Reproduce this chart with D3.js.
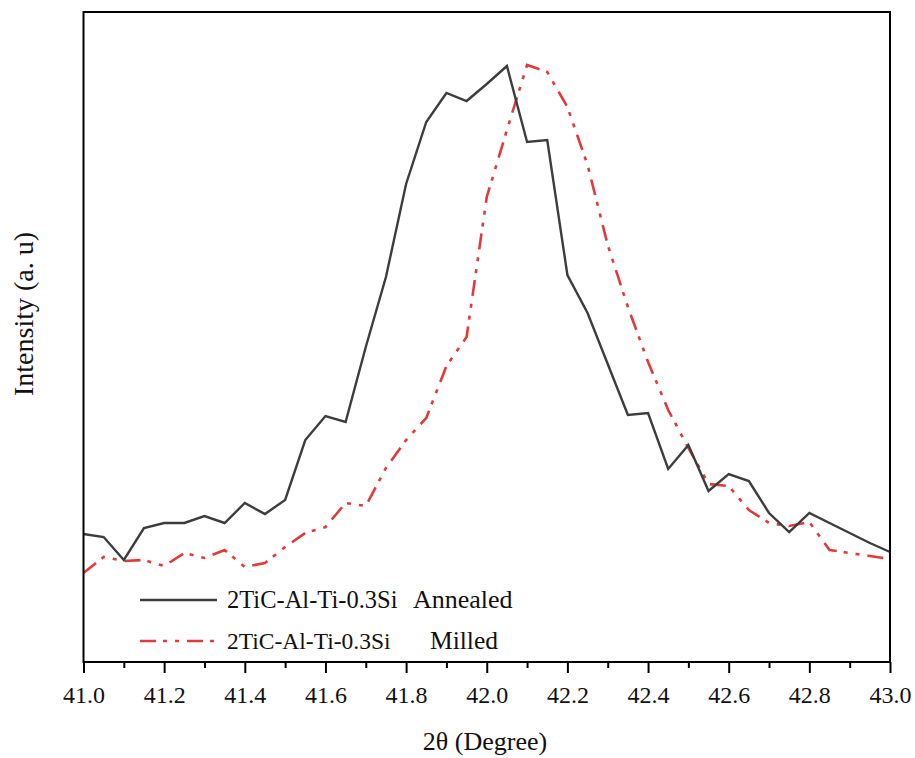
<!DOCTYPE html>
<html>
<head>
<meta charset="utf-8">
<script src="https://cdn.jsdelivr.net/npm/d3@7"></script>
<style>
  html, body { margin: 0; padding: 0; background: #fff; }
  svg { display: block; }
</style>
</head>
<body>
<script>
// ---- Data (2θ from 41.00 to 43.00, step 0.05) ----
const twoTheta = [41.00,41.05,41.10,41.15,41.20,41.25,41.30,41.35,41.40,41.45,41.50,
  41.55,41.60,41.65,41.70,41.75,41.80,41.85,41.90,41.95,42.00,
  42.05,42.10,42.15,42.20,42.25,42.30,42.35,42.40,42.45,42.50,
  42.55,42.60,42.65,42.70,42.75,42.80,42.85,42.90,42.95,43.00];
const annealed = [128,125,102,134,139,139,146,139,159,148,162,
  222,246,240,315,385,478,540,569,561,578,
  596,520,522,387,349,298,247,249,193,217,
  171,188,181,149,130,149,139,129,119,110];
const milled = [89,105,101,102,96,109,104,112,95,99,115,
  129,135,159,156,194,222,244,296,325,465,
  532,597,590,555,497,417,355,300,252,214,
  178,176,152,139,136,140,112,109,106,103];
const xTicks = [41.0,41.2,41.4,41.6,41.8,42.0,42.2,42.4,42.6,42.8,43.0];
const xMinorTicks = [41.1,41.3,41.5,41.7,41.9,42.1,42.3,42.5,42.7,42.9];
const seriesNames = ["2TiC-Al-Ti-0.3Si", "2TiC-Al-Ti-0.3Si"];
const seriesTags = ["Annealed", "Milled"];
const xTitle = "2θ (Degree)";
const yTitle = "Intensity (a. u)";

// ---- Layout ----
const W = 915, H = 758;
const mLeft = 83.5, mRight = 890, mTop = 12, mBottom = 662;
const FONT = '"Liberation Serif"';

const svg = d3.select("body").append("svg").attr("width", W).attr("height", H);

const x = d3.scaleLinear().domain([41, 43]).range([mLeft, mRight]);
const y = d3.scaleLinear().domain([0, 650]).range([mBottom, mTop]);

// series lines
const line = d3.line().x((d, i) => x(twoTheta[i])).y(d => y(d));

svg.append("path").datum(milled)
  .attr("d", line).attr("fill", "none")
  .attr("stroke", "#e23a3a").attr("stroke-width", 2.6)
  .attr("stroke-dasharray", "16,7,4,8,4,8");

svg.append("path").datum(annealed)
  .attr("d", line).attr("fill", "none")
  .attr("stroke", "#3d3d3d").attr("stroke-width", 2.4)
  .attr("stroke-linejoin", "miter");

// frame
svg.append("rect").attr("x", mLeft).attr("y", mTop)
  .attr("width", mRight - mLeft).attr("height", mBottom - mTop)
  .attr("fill", "none").attr("stroke", "#000").attr("stroke-width", 2);

// x axis
const xAxis = d3.axisBottom(x).tickValues(xTicks).tickFormat(d3.format(".1f"))
  .tickSize(11).tickSizeOuter(0).tickPadding(6);
const gx = svg.append("g").attr("transform", `translate(0,${mBottom})`).call(xAxis);
gx.attr("font-family", null).attr("font-size", null);
gx.select(".domain").remove();
gx.selectAll(".tick line").attr("stroke", "#000").attr("stroke-width", 2);
gx.selectAll(".tick text")
  .style("font-family", FONT).style("font-size", "24px").style("fill", "#111")
  .attr("dy", null).attr("y", 41);

const xMinor = d3.axisBottom(x).tickValues(xMinorTicks).tickSize(6).tickFormat("");
const gxm = svg.append("g").attr("transform", `translate(0,${mBottom})`).call(xMinor);
gxm.select(".domain").remove();
gxm.selectAll(".tick line").attr("stroke", "#000").attr("stroke-width", 2);

// axis titles
svg.append("text").attr("x", 485).attr("y", 750)
  .attr("text-anchor", "middle")
  .style("font-family", FONT).style("font-size", "26px").style("fill", "#111")
  .text(xTitle);

svg.append("text").attr("transform", "translate(33,314) rotate(-90)")
  .attr("text-anchor", "middle")
  .style("font-family", FONT).style("font-size", "28px").style("fill", "#111")
  .text(yTitle);

// legend
const legend = [
  { y: 600, color: "#3d3d3d", dash: null, w: 2.4, name: seriesNames[0], tag: seriesTags[0], tagX: 413, size: 24.5, tagSize: 26 },
  { y: 641, color: "#e23a3a", dash: "16,7,4,8,4,8", w: 2.6, name: seriesNames[1], tag: seriesTags[1], tagX: 430, size: 23.5, tagSize: 25.5 }
];
legend.forEach(l => {
  svg.append("line").attr("x1", 140).attr("x2", 217).attr("y1", l.y).attr("y2", l.y)
    .attr("stroke", l.color).attr("stroke-width", l.w)
    .attr("stroke-dasharray", l.dash);
  svg.append("text").attr("x", 227).attr("y", l.y + 7.5)
    .style("font-family", FONT).style("font-size", l.size + "px").style("fill", "#111")
    .text(l.name);
  svg.append("text").attr("x", l.tagX).attr("y", l.y + 7.5)
    .style("font-family", FONT).style("font-size", l.tagSize + "px").style("fill", "#111")
    .text(l.tag);
});

svg.selectAll("text").each(function () { this.getComputedTextLength(); });
</script>
</body>
</html>
